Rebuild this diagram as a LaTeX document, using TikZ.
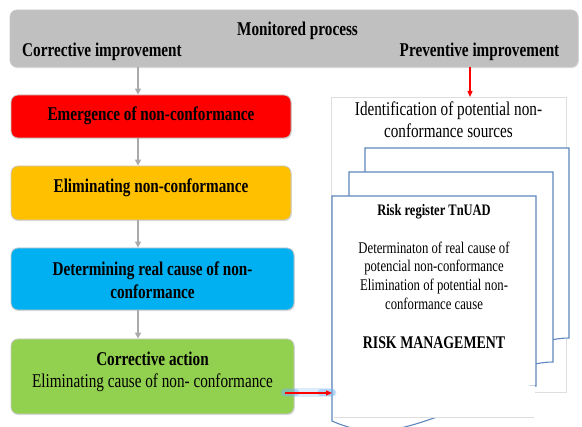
\documentclass[tikz,border=0pt]{standalone}
\usepackage{fontspec}
\setmainfont{Liberation Serif}[FakeStretch=0.78]
\usetikzlibrary{arrows.meta,shadows}
\definecolor{barg}{RGB}{192,192,192}
\definecolor{cred}{RGB}{255,0,0}
\definecolor{corange}{RGB}{255,192,0}
\definecolor{cblue}{RGB}{0,176,240}
\definecolor{cgreen}{RGB}{146,208,80}
\definecolor{boxline}{RGB}{200,200,200}
\definecolor{docblue}{RGB}{95,135,190}
\definecolor{faint}{RGB}{222,222,222}
\definecolor{arrg}{RGB}{170,170,170}
\definecolor{glow}{RGB}{120,180,235}
\begin{document}
\begin{tikzpicture}[x=1pt,y=-1pt,
  box/.style={draw=boxline, line width=0.8pt, rounded corners=7pt,
    drop shadow={shadow xshift=0.8pt,shadow yshift=-1.2pt,opacity=0.25}},
  bigtxt/.style={font=\fontsize{19.5}{22.5}\selectfont, align=center, inner sep=0pt},
  doctxt/.style={font=\fontsize{16.3}{18.7}\selectfont, align=center, inner sep=0pt},
  garrow/.style={draw=arrg, line width=1.5pt, -{Triangle[length=6pt,width=6pt]}},
  rarrow/.style={draw=red, line width=1.2pt, -{Triangle[length=6pt,width=5pt]}},
  docshape/.style={draw=docblue, line width=1.1pt, fill=white}]
\useasboundingbox (0,0) rectangle (582,427);

% top bar
\node[box, fill=barg, minimum width=568pt, minimum height=57pt] (bar) at (294,38.5) {};
\node[bigtxt, font=\fontsize{19.5}{22.5}\selectfont\bfseries] (mon) at (297.5,31) {Monitored process};
\node[bigtxt, font=\fontsize{19.5}{22.5}\selectfont\bfseries] (corr) at (102,52) {Corrective improvement};
\node[bigtxt, font=\fontsize{19.5}{22.5}\selectfont\bfseries] (prev) at (479.5,52) {Preventive improvement};

% left column boxes
\node[box, fill=cred, minimum width=280pt, minimum height=43pt] (b1) at (151,116.5) {};
\node[bigtxt, font=\fontsize{19.5}{22.5}\selectfont\bfseries] (t1) at (151,115.5) {Emergence of non-conformance};
\node[box, fill=corange, minimum width=280pt, minimum height=54pt] (b2) at (151,193) {};
\node[bigtxt, font=\fontsize{19.5}{22.5}\selectfont\bfseries] (t2) at (151,187.5) {Eliminating non-conformance};
\node[box, fill=cblue, minimum width=283pt, minimum height=62pt] (b3) at (152.5,279) {};
\node[bigtxt, font=\fontsize{19.5}{22.5}\selectfont\bfseries] (t3) at (152.5,280) {Determining real cause of non-\\conformance};
\node[box, fill=cgreen, minimum width=283pt, minimum height=75pt] (b4) at (152.5,376.5) {};
\node[bigtxt] (t4) at (152.5,372) {\textbf{Corrective action}\\Eliminating cause of non- conformance};

% arrows in left column
\coordinate (ax) at (138,0);
\coordinate (rx) at (470,0);
\draw[garrow] (bar.south -| ax) -- (b1.north -| ax);
\draw[garrow] (b1.south -| ax) -- (b2.north -| ax);
\draw[garrow] (b2.south -| ax) -- (b3.north -| ax);
\draw[garrow] (b3.south -| ax) -- (b4.north -| ax);

% identification box
\draw[draw=faint, line width=0.6pt, fill=white] (331,97) rectangle (566,392);
\node[bigtxt] (ident) at (448.5,119.5) {Identification of potential non-\\conformance sources};
\coordinate (identtop) at (470,97);
\draw[rarrow] (bar.south -| rx) -- (identtop);

% stacked documents
\draw[docshape] (365,373) -- (365,148) -- (569,148) -- (569,338)
  .. controls (540,338) and (505,357) .. (470,369)
  .. controls (435,381) and (405,391) .. cycle;
\draw[docshape] (349,397) -- (349,172) -- (553,172) -- (553,362)
  .. controls (524,362) and (489,381) .. (454,393)
  .. controls (419,405) and (389,415) .. cycle;
\draw[docshape] (332,421) -- (332,196) -- (536,196) -- (536,386)
  .. controls (507,386) and (472,405) .. (437,417)
  .. controls (402,429) and (372,439) .. cycle;
\fill[white] (333.5,386) rectangle (535,417);
\draw[faint, line width=0.6pt] (334,417) -- (534,417);

\node[doctxt, font=\fontsize{16}{18.7}\selectfont\bfseries] (rr) at (434,212) {Risk register TnUAD};
\node[doctxt] (det) at (434,275.5) {Determinaton of real cause of\\potencial non-conformance\\Elimination of potential non-\\conformance cause};
\node[doctxt, font=\fontsize{17.8}{20}\selectfont\bfseries] (rm) at (434,343) {RISK MANAGEMENT};

% red arrow from corrective action to documents
\coordinate (ga) at (285,393);
\coordinate (fd) at (332,393);
\coordinate (g1) at (296,393);
\coordinate (g2) at (321,393);
\draw[glow, opacity=0.25, line width=9pt, line cap=round] (ga) -- (fd);
\draw[glow, opacity=0.45, line width=7pt, line cap=round] (ga) -- (g1);
\draw[glow, opacity=0.45, line width=7pt, line cap=round] (g2) -- (fd);
\draw[rarrow] (ga) -- (fd);
\end{tikzpicture}
\end{document}
